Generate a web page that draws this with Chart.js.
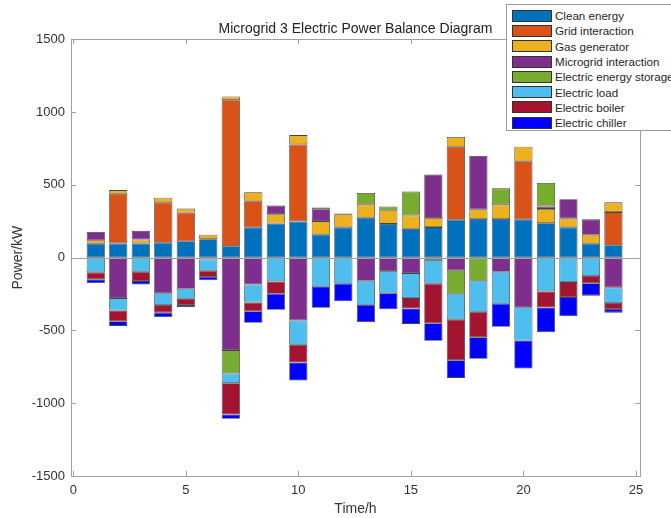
<!DOCTYPE html>
<html>
<head>
<meta charset="utf-8">
<script src="https://cdn.jsdelivr.net/npm/chart.js@4"></script>
<style>
  body { margin: 0; background: #fff; overflow: hidden; }
  #wrap { position: relative; width: 671px; height: 518px; overflow: hidden; }
  #legend {
    position: absolute; left: 506px; top: 4px; width: 172px; height: 127px;
    background: #fff; border: 1px solid #9a9a9a; box-sizing: border-box;
    font: 11.6px "Liberation Sans", Arial, sans-serif; color: #262626;
    padding-top: 3px;
  }
  #legend .row { height: 15.3px; display: flex; align-items: center; white-space: nowrap; }
  #legend .sw { flex-shrink: 0; width: 38px; height: 10px; margin-left: 5px; margin-right: 3px; border: 1px solid #333; }
</style>
</head>
<body>
<div id="wrap">
  <canvas id="myChart" width="671" height="518"></canvas>
  <div id="legend"></div>
</div>
<script>
// hours 1..24
var hours = [1,2,3,4,5,6,7,8,9,10,11,12,13,14,15,16,17,18,19,20,21,22,23,24];

var cleanEnergy  = [95,98,98,102,113,127,79,208,235,249,157,208,274,232,198,210,260,265,265,263,237,208,95,86];
var gridInter    = [0,341,0,278,197,0,1003,179,0,529,0,0,0,0,0,0,502,0,0,399,0,0,0,227];
var gasGen       = [25,25,27,32,27,30,25,62,64,64,94,91,92,94,92,62,67,67,101,100,98,62,62,67];
var microInter   = [57,-278,59,-245,-214,-12,-635,-184,60,-431,82,5,-159,-92,-106,300,-87,366,-97,-340,16,131,106,-204];
var storage      = [0,0,0,0,0,0,-160,0,0,0,12,0,78,25,165,-16,-161,-159,110,0,162,0,0,0];
var elecLoad     = [-101,-85,-97,-80,-69,-78,-67,-124,-163,-168,-197,-179,-165,-153,-172,-163,-176,-213,-220,-229,-232,-168,-126,-108];
var elecBoiler   = [-48,-74,-64,-53,-43,-43,-215,-60,-85,-121,0,0,0,0,-71,-272,-280,-174,0,0,-110,-103,-50,-41];
var elecChiller  = [-25,-32,-23,-30,-14,-23,-30,-80,-110,-124,-147,-121,-119,-110,-106,-120,-122,-149,-158,-192,-170,-131,-85,-25];

var xTicks = [0,5,10,15,20,25];
var yTicks = [-1500,-1000,-500,0,500,1000,1500];

var font = '"Liberation Sans", Arial, sans-serif';

function pts(arr) {
  return arr.map(function (v, i) { return { x: hours[i], y: v === 0 ? null : v }; });
}
function ds(label, arr, color) {
  return {
    label: label, data: pts(arr), backgroundColor: color,
    borderColor: 'rgba(20,20,20,0.8)', borderWidth: 0.8, borderSkipped: false,
    categoryPercentage: 1, barPercentage: 0.81, stack: 's'
  };
}

// matlab style box, inward ticks and zero baseline
var boxPlugin = {
  id: 'box',
  afterDatasetsDraw: function (chart) {
    var a = chart.chartArea, ctx = chart.ctx;
    var xs = chart.scales.x, ys = chart.scales.y;
    ctx.save();
    ctx.strokeStyle = '#a0a0a0';
    ctx.lineWidth = 1;
    var y0 = Math.round(ys.getPixelForValue(0)) + 0.5;
    ctx.beginPath(); ctx.moveTo(a.left, y0); ctx.lineTo(a.right, y0); ctx.stroke();
    ctx.strokeRect(Math.round(a.left) + 0.5, Math.round(a.top) + 0.5,
      Math.round(a.right - a.left), Math.round(a.bottom - a.top));
    ctx.beginPath();
    xTicks.forEach(function (v) {
      var x = Math.round(xs.getPixelForValue(v)) + 0.5;
      ctx.moveTo(x, a.bottom); ctx.lineTo(x, a.bottom - 5);
      ctx.moveTo(x, a.top); ctx.lineTo(x, a.top + 5);
    });
    yTicks.forEach(function (v) {
      var y = Math.round(ys.getPixelForValue(v)) + 0.5;
      ctx.moveTo(a.left, y); ctx.lineTo(a.left + 5, y);
      ctx.moveTo(a.right, y); ctx.lineTo(a.right - 5, y);
    });
    ctx.stroke();
    ctx.restore();
  }
};

var ctx = document.getElementById('myChart').getContext('2d');
var myChart = new Chart(ctx, {
  type: 'bar',
  data: {
    datasets: [
      ds('Clean energy', cleanEnergy, '#0072BD'),
      ds('Grid interaction', gridInter, '#D95319'),
      ds('Gas generator', gasGen, '#EDB120'),
      ds('Microgrid interaction', microInter, '#7E2F8E'),
      ds('Electric energy storage', storage, '#77AC30'),
      ds('Electric load', elecLoad, '#4DBEEE'),
      ds('Electric boiler', elecBoiler, '#A2142F'),
      ds('Electric chiller', elecChiller, '#0000FF')
    ]
  },
  options: {
    responsive: false,
    animation: false,
    layout: { padding: { left: 0, right: 31, top: 0, bottom: 0 } },
    plugins: {
      legend: { display: false },
      tooltip: { enabled: false },
      title: {
        display: true, text: 'Microgrid 3 Electric Power Balance Diagram',
        fullSize: false, color: '#222',
        font: { family: font, size: 14, weight: 'normal' },
        padding: { top: 21, bottom: 1.5 }
      }
    },
    scales: {
      x: {
        type: 'linear', stacked: true, offset: false,
        min: -0.1, max: 25.18,
        grid: { display: false, drawTicks: false },
        border: { display: false },
        afterBuildTicks: function (s) { s.ticks = xTicks.map(function (v) { return { value: v }; }); },
        afterFit: function (s) { s.height = 42; },
        ticks: { color: '#333', padding: 7, font: { family: font, size: 13 },
          callback: function (v) { return String(v); } },
        title: { display: true, text: 'Time/h', color: '#333', padding: { top: 0, bottom: 0 },
          font: { family: font, size: 14 } }
      },
      y: {
        stacked: true, min: -1500, max: 1500,
        grid: { display: false, drawTicks: false },
        border: { display: false },
        afterBuildTicks: function (s) { s.ticks = yTicks.map(function (v) { return { value: v }; }); },
        afterFit: function (s) { s.width = 71; },
        ticks: { color: '#333', padding: 6, font: { family: font, size: 13 },
          callback: function (v) { return String(v); } },
        title: { display: true, text: 'Power/kW', color: '#333', padding: { top: 10, bottom: 0 },
          font: { family: font, size: 14 } }
      }
    }
  },
  plugins: [boxPlugin]
});

// legend as html, from the chart's datasets
var leg = document.getElementById('legend');
myChart.data.datasets.forEach(function (d) {
  var row = document.createElement('div');
  row.className = 'row';
  var sw = document.createElement('span');
  sw.className = 'sw';
  sw.style.background = d.backgroundColor;
  var t = document.createElement('span');
  t.textContent = d.label;
  row.appendChild(sw); row.appendChild(t);
  leg.appendChild(row);
});
</script>
</body>
</html>
